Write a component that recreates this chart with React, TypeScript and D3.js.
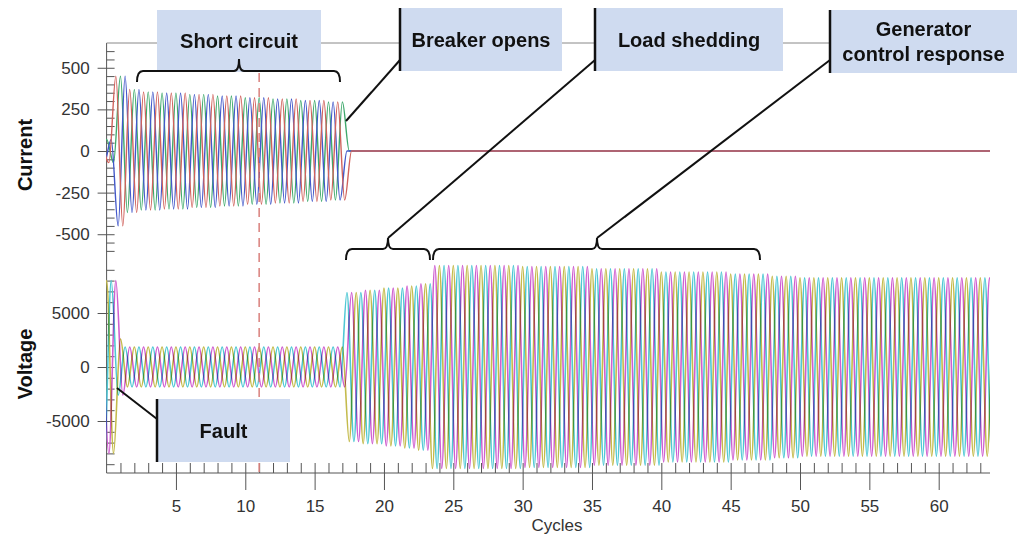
import React, { useEffect, useRef } from 'react';
import * as d3 from 'd3';

// x axis (cycles)
const cycleStart = 0;
const cycleEnd = 63.7;
const xTickValues = [5, 10, 15, 20, 25, 30, 35, 40, 45, 50, 55, 60];
const xMinorTicks = d3.range(1, 64);

// dashed marker
const markerCycle = 11;

// current: peak amplitude steps (cycle where step begins, amps)
const currentEnvCycles = [0, 0.6, 1.5, 2.5, 4, 6, 8, 10, 12, 14, 16, 17.25];
const currentEnvAmps = [70, 450, 370, 355, 348, 340, 330, 320, 312, 303, 295, 0];
const currentTicks = [-500, -250, 0, 250, 500];
const currentMinor = d3.range(-600, 601, 50);

// voltage: peak amplitude steps
const voltageEnvCycles = [0, 0.7, 1.3, 17.25, 18.5, 20, 21.5, 22.5, 23.45, 30, 35, 40, 45, 48, 50];
const voltageEnvAmps = [8000, 2600, 1850, 6900, 7100, 7300, 7500, 7700, 9400, 9300, 9100, 8800, 8600, 8400, 8250];
const voltageTicks = [-5000, 0, 5000];
const voltageMinor = d3.range(-9000, 9001, 1000);

// three phases, 1/3 cycle apart
const phaseShifts = [0, 1 / 3, 2 / 3];
const currentColors = ['#3ea96b', '#4358ca', '#d0625c'];
const voltageColors = ['#c4bb4c', '#4fc8d4', '#cf5fd0'];

const FONT = 'Liberation Sans, Arial, sans-serif';

function App() {
  const ref = useRef<SVGSVGElement>(null);

  useEffect(() => {
    drawChart();
  }, []);

  function drawChart() {
    const svg = d3.select(ref.current);
    svg.selectAll('*').remove();

    const x = d3.scaleLinear().domain([cycleStart, cycleEnd]).range([106.6, 990]);
    const yCur = d3.scaleLinear().domain([-650, 650]).range([259.2, 42.8]);
    const yVolt = d3.scaleLinear().domain([-5000, 5000]).range([421, 313]);

    const plotTop = 43;
    const plotBottom = 473;
    const plain = (d: any) => String(d);

    svg
      .append('defs')
      .append('clipPath')
      .attr('id', 'plotclip')
      .append('rect')
      .attr('x', x(0))
      .attr('y', plotTop - 20)
      .attr('width', x(cycleEnd) - x(0))
      .attr('height', plotBottom - plotTop + 20);

    // ---- axes
    const axisColor = '#555';
    const styleAxis = (g: any) => {
      g.select('.domain').remove();
      g.selectAll('line').attr('stroke', axisColor);
      g.selectAll('text')
        .attr('fill', '#333')
        .style('font-family', FONT)
        .style('font-size', '17px');
    };

    svg
      .append('line')
      .attr('x1', x(0)).attr('x2', x(0))
      .attr('y1', plotTop).attr('y2', plotBottom)
      .attr('stroke', axisColor);
    svg
      .append('line')
      .attr('x1', x(0)).attr('x2', x(cycleEnd))
      .attr('y1', plotBottom).attr('y2', plotBottom)
      .attr('stroke', axisColor);
    // top frame line (runs behind the callout boxes)
    svg
      .append('line')
      .attr('x1', x(0)).attr('x2', 830)
      .attr('y1', plotTop).attr('y2', plotTop)
      .attr('stroke', '#888');

    const left = svg.append('g').attr('transform', `translate(${x(0)},0)`);
    left.append('g').call(d3.axisLeft(yCur).tickValues(currentTicks).tickSize(9).tickPadding(8).tickFormat(plain)).call(styleAxis);
    left.append('g').call(d3.axisRight(yCur).tickValues(currentMinor).tickSize(8).tickFormat(() => '')).call(styleAxis);
    left.append('g').call(d3.axisLeft(yVolt).tickValues(voltageTicks).tickSize(9).tickPadding(8).tickFormat(plain)).call(styleAxis);
    left.append('g').call(d3.axisRight(yVolt).tickValues(voltageMinor).tickSize(8).tickFormat(() => '')).call(styleAxis);

    const bottom = svg.append('g').attr('transform', `translate(0,${plotBottom})`);
    bottom.append('g').call(d3.axisBottom(x).tickValues(xTickValues).tickSize(17).tickPadding(10).tickFormat(plain)).call(styleAxis);
    bottom.append('g').call(d3.axisTop(x).tickValues(xMinorTicks).tickSize(10).tickFormat(() => '')).call(styleAxis);

    svg.append('text')
      .attr('x', 557).attr('y', 531)
      .attr('text-anchor', 'middle')
      .attr('fill', '#333')
      .style('font-family', FONT)
      .style('font-size', '17px')
      .text('Cycles');

    const yTitle = (label: string, cy: number) =>
      svg.append('text')
        .attr('transform', `translate(32,${cy}) rotate(-90)`)
        .attr('text-anchor', 'middle')
        .attr('fill', '#111')
        .style('font-family', FONT)
        .style('font-size', '20px')
        .style('font-weight', 'bold')
        .text(label);
    yTitle('Current', 155);
    yTitle('Voltage', 364);

    // ---- waveforms: alternating peaks every half cycle, amplitude from step envelope
    const peaks = (envC: number[], envA: number[], shift: number) => {
      const pts: [number, number][] = [];
      for (let k = -2; ; k++) {
        const t = shift + k * 0.5;
        if (t > cycleEnd + 1) break;
        const i = Math.max(0, d3.bisectRight(envC, t) - 1);
        const sign = k % 2 === 0 ? 1 : -1;
        pts.push([t, sign * envA[i]]);
      }
      return pts;
    };

    const waves = svg.append('g').attr('clip-path', 'url(#plotclip)');

    phaseShifts.forEach((s, p) => {
      const line = d3.line<[number, number]>()
        .x(d => x(d[0]))
        .y(d => yVolt(d[1]))
        .curve(d3.curveMonotoneX);
      waves.append('path')
        .datum(peaks(voltageEnvCycles, voltageEnvAmps, s))
        .attr('fill', 'none')
        .attr('stroke', voltageColors[p])
        .attr('stroke-width', 1.6)
        .style('mix-blend-mode', 'multiply')
        .attr('d', line);
    });

    phaseShifts.forEach((s, p) => {
      const line = d3.line<[number, number]>()
        .x(d => x(d[0]))
        .y(d => yCur(d[1]))
        .curve(d3.curveMonotoneX);
      waves.append('path')
        .datum(peaks(currentEnvCycles, currentEnvAmps, s))
        .attr('fill', 'none')
        .attr('stroke', currentColors[p])
        .attr('stroke-width', 1.4)
        .attr('d', line);
    });

    // dashed marker line
    svg.append('line')
      .attr('x1', x(markerCycle)).attr('x2', x(markerCycle))
      .attr('y1', plotTop).attr('y2', plotBottom)
      .attr('stroke', '#d9807c')
      .attr('stroke-width', 1.5)
      .attr('stroke-dasharray', '9,6');

    // ---- callouts
    const boxFill = '#cfdbf0';
    const box = (x0: number, y0: number, x1: number, y1: number, lines: string[], bar: boolean) => {
      svg.append('rect')
        .attr('x', x0).attr('y', y0)
        .attr('width', x1 - x0).attr('height', y1 - y0)
        .attr('fill', boxFill);
      if (bar) {
        svg.append('line')
          .attr('x1', x0).attr('x2', x0)
          .attr('y1', y0).attr('y2', y1)
          .attr('stroke', '#111').attr('stroke-width', 2.5);
      }
      const cx = (x0 + x1) / 2;
      const cy = (y0 + y1) / 2;
      const lh = 25;
      lines.forEach((l, i) => {
        svg.append('text')
          .attr('x', cx)
          .attr('y', cy + (i - (lines.length - 1) / 2) * lh)
          .attr('dy', '0.35em')
          .attr('text-anchor', 'middle')
          .attr('fill', '#111')
          .style('font-family', FONT)
          .style('font-size', '20px')
          .style('font-weight', 'bold')
          .text(l);
      });
    };

    const brace = (x1: number, x2: number, xm: number, y: number, drop: number, tipY: number) => {
      svg.append('path')
        .attr('d', `M${x1},${y + drop} Q${x1},${y} ${x1 + 6},${y} L${xm - 5},${y} Q${xm},${y} ${xm},${tipY} Q${xm},${y} ${xm + 5},${y} L${x2 - 6},${y} Q${x2},${y} ${x2},${y + drop}`)
        .attr('fill', 'none')
        .attr('stroke', '#111')
        .attr('stroke-width', 2);
    };

    const connector = (xa: number, ya: number, xb: number, yb: number) =>
      svg.append('line')
        .attr('x1', xa).attr('y1', ya)
        .attr('x2', xb).attr('y2', yb)
        .attr('stroke', '#111')
        .attr('stroke-width', 2);

    box(157, 10, 321, 72, ['Short circuit'], false);
    brace(137, 340, 239, 71, 11, 59);

    box(400, 8, 562, 71, ['Breaker opens'], true);
    connector(400, 60, 346, 121);

    box(595, 8, 783, 71, ['Load shedding'], true);
    brace(346, 430, 388, 249, 11, 238);
    connector(595, 60, 388, 238);

    box(830, 10, 1017, 73, ['Generator', 'control response'], true);
    brace(433, 760, 597, 249, 11, 238);
    connector(830, 60, 597, 238);

    box(157, 399, 290, 462, ['Fault'], true);
    connector(157, 419, 117, 388);
  }

  return (
    <svg
      ref={ref}
      width={1019}
      height={536}
      style={{ position: 'absolute', left: 0, top: 0, background: '#fff' }}
    />
  );
}

export default App;
